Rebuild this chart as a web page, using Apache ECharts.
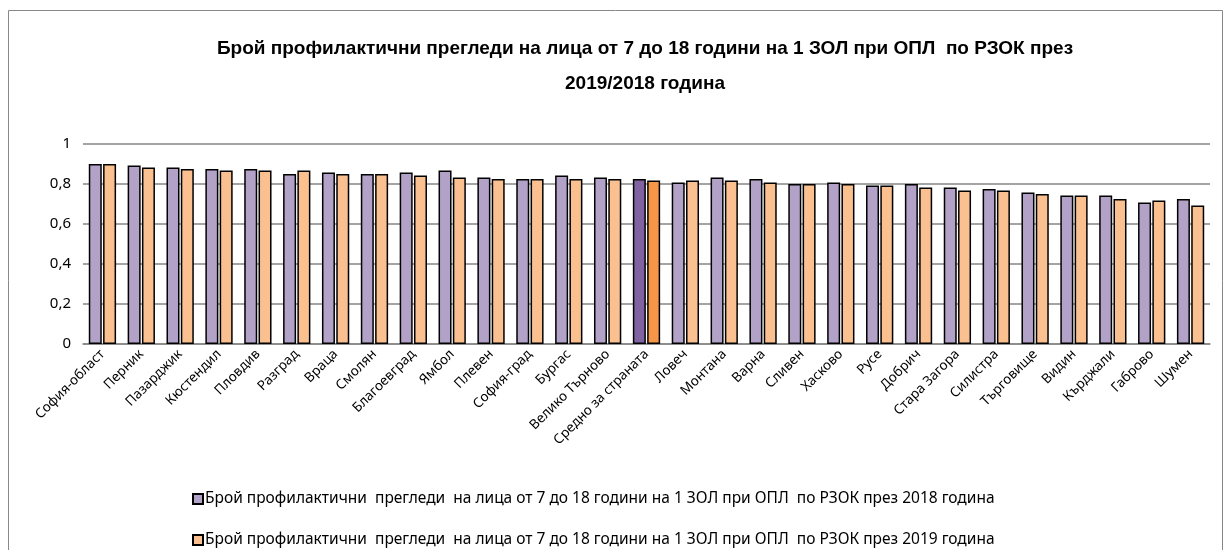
<!DOCTYPE html>
<html>
<head>
<meta charset="utf-8">
<script src="https://cdn.jsdelivr.net/npm/echarts@6/dist/echarts.min.js"></script>
<style>
    html, body { margin: 0; padding: 0; background: #fff; }
    #main { width: 1223px; height: 550px; }
</style>
</head>
<body>
<div id="main"></div>
<script>
// области (по РЗОК)
const categories = [
    'София-област', 'Перник', 'Пазарджик', 'Кюстендил', 'Пловдив', 'Разград', 'Враца',
    'Смолян', 'Благоевград', 'Ямбол', 'Плевен', 'София-град', 'Бургас', 'Велико Търново',
    'Средно за страната', 'Ловеч', 'Монтана', 'Варна', 'Сливен', 'Хасково', 'Русе',
    'Добрич', 'Стара Загора', 'Силистра', 'Търговище', 'Видин', 'Кърджали', 'Габрово', 'Шумен'
]
const values2018 = [
    0.900, 0.892, 0.883, 0.875, 0.875, 0.850, 0.858,
    0.850, 0.858, 0.868, 0.833, 0.825, 0.842, 0.833,
    0.825, 0.808, 0.833, 0.825, 0.800, 0.808, 0.792,
    0.800, 0.783, 0.775, 0.758, 0.742, 0.742, 0.708, 0.725
]
const values2019 = [
    0.900, 0.883, 0.875, 0.867, 0.868, 0.868, 0.850,
    0.850, 0.842, 0.833, 0.825, 0.825, 0.825, 0.825,
    0.817, 0.817, 0.817, 0.808, 0.800, 0.800, 0.792,
    0.783, 0.767, 0.767, 0.750, 0.742, 0.725, 0.717, 0.692
]
const yTicks = [0, 0.2, 0.4, 0.6, 0.8, 1]
const highlightName = 'Средно за страната'

const seriesNames = [
    'Брой профилактични  прегледи  на лица от 7 до 18 години на 1 ЗОЛ при ОПЛ  по РЗОК през 2018 година',
    'Брой профилактични  прегледи  на лица от 7 до 18 години на 1 ЗОЛ при ОПЛ  по РЗОК през 2019 година'
]

const chart = echarts.init(document.getElementById('main'))

// средното за страната е в по-тъмен цвят
function buildData(values, hiColor) {
    return values.map((v, i) => {
        if (categories[i] === highlightName) {
            return { value: v, itemStyle: { color: hiColor } }
        }
        return v
    })
}

// една легенда на ред
function legendRow(name, top) {
    return {
        left: 187,
        top: top,
        itemWidth: 10,
        itemHeight: 10,
        icon: 'rect',
        textStyle: {
            fontFamily: 'Noto Sans, sans-serif',
            fontSize: 15.5,
            color: '#000',
            padding: [0, 0, 0, -3]
        },
        data: [name]
    }
}

const option = {
    animation: false,
    textStyle: { fontFamily: 'Noto Sans, sans-serif' },
    title: {
        text: 'Брой профилактични прегледи на лица от 7 до 18 години на 1 ЗОЛ при ОПЛ  по РЗОК през\n2019/2018 година',
        left: 640,
        textAlign: 'center',
        top: 26,
        textStyle: {
            fontFamily: 'Liberation Sans Narrow, Liberation Sans, sans-serif',
            fontSize: 19,
            fontWeight: 'bold',
            color: '#000',
            lineHeight: 35
        }
    },
    legend: [
        legendRow(seriesNames[0], 486),
        legendRow(seriesNames[1], 527)
    ],
    grid: {
        left: 83,
        right: 13,
        top: 144,
        bottom: 206
    },
    xAxis: {
        type: 'category',
        data: categories,
        axisTick: { show: false },
        axisLine: { lineStyle: { color: '#868686', width: 1.5 } },
        axisLabel: {
            interval: 0,
            rotate: 45,
            fontFamily: 'Noto Sans, sans-serif',
            fontSize: 13.5,
            color: '#000',
            margin: 8
        }
    },
    yAxis: {
        type: 'value',
        min: yTicks[0],
        max: yTicks[yTicks.length - 1],
        interval: 0.2,
        axisLine: { show: false },
        axisTick: { show: false },
        axisLabel: {
            fontFamily: 'Noto Sans, sans-serif',
            fontSize: 15,
            color: '#000',
            margin: 12,
            formatter: v => String(Math.round(v * 10) / 10).replace('.', ',')
        },
        splitLine: { lineStyle: { color: '#868686', width: 1.5 } }
    },
    series: [
        {
            name: seriesNames[0],
            type: 'bar',
            data: buildData(values2018, '#8064A2'),
            barWidth: 13,
            barGap: '10%',
            itemStyle: { color: '#B3A2C7', borderColor: '#000', borderWidth: 1.5 }
        },
        {
            name: seriesNames[1],
            type: 'bar',
            data: buildData(values2019, '#F79646'),
            barWidth: 13,
            barGap: '10%',
            itemStyle: { color: '#FAC090', borderColor: '#000', borderWidth: 1.5 }
        }
    ],
    graphic: [
        {
            type: 'rect',
            shape: { x: 8.5, y: 10.5, width: 1214, height: 560 },
            style: { fill: null, stroke: '#888', lineWidth: 1 },
            silent: true
        }
    ]
}

chart.setOption(option)
</script>
</body>
</html>
